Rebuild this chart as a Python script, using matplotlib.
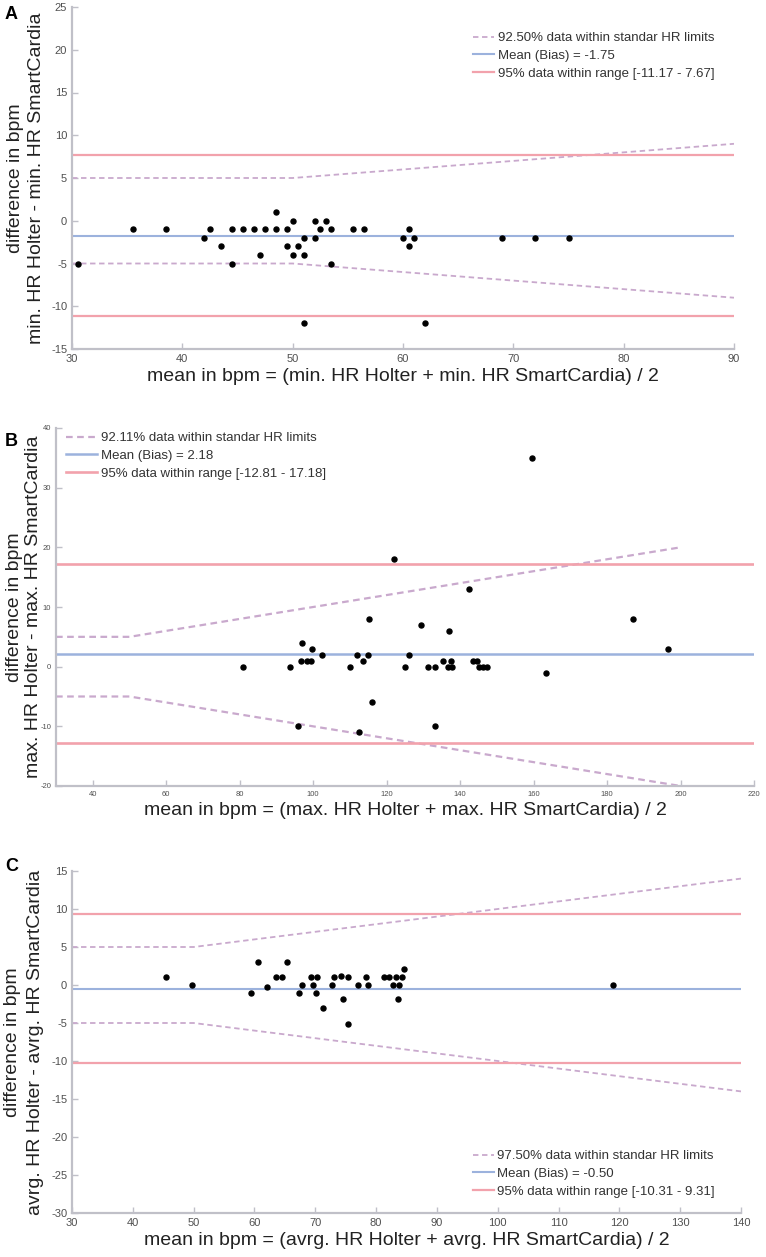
import matplotlib
matplotlib.use('Agg')
import matplotlib.pyplot as plt

plt.rcParams['axes.unicode_minus'] = False

# ---- panel A : minimum HR ----
a_x = [30.5, 35.5, 38.5, 42, 42.5, 43.5, 44.5, 44.5, 45.5, 46.5, 47, 47.5, 48.5, 48.5,
       49.5, 49.5, 50, 50, 50.5, 51, 51, 51, 52, 52, 52.5, 53, 53.5, 53.5, 55.5, 56.5,
       60, 60.5, 60.5, 61, 62, 69, 72, 75]
a_y = [-5, -1, -1, -2, -1, -3, -1, -5, -1, -1, -4, -1, 1, -1,
       -1, -3, 0, -4, -3, -2, -4, -12, 0, -2, -1, 0, -1, -5, -1, -1,
       -2, -1, -3, -2, -12, -2, -2, -2]
a_bias = -1.75
a_loa = [-11.17, 7.67]
a_lim_x = [30, 50, 90]
a_lim_y = [5, 5, 9]

# ---- panel B : maximum HR ----
b_x = [80.9, 93.8, 96.6, 97.0, 96.0, 98.3, 99.5, 99.6, 102.3, 110.1, 112.0, 112.4, 113.6,
       115.0, 115.3, 116.0, 121.9, 125.0, 126.1, 129.3, 131.2, 133.1, 133.1, 135.4, 136.6,
       137.0, 137.5, 137.8, 142.4, 143.4, 144.6, 145.2, 146.1, 147.2, 159.7, 163.5, 187.0, 196.7]
b_y = [0, 0, 1, 4, -10, 1, 1, 3, 2, 0, 2, -11, 1,
       2, 8, -6, 18, 0, 2, 7, 0, 0, -10, 1, 0,
       6, 1, 0, 13, 1, 1, 0, 0, 0, 35, -1, 8, 3]
b_bias = 2.18
b_loa = [-12.81, 17.18]
b_lim_x = [30, 50, 200]
b_lim_y = [5, 5, 20]

# ---- panel C : average HR ----
c_x = [45.4, 49.8, 59.4, 60.6, 62.0, 63.6, 64.6, 65.4, 67.4, 67.8, 69.3, 69.6, 70.3, 70.2,
       71.3, 72.8, 73.1, 74.2, 74.6, 75.3, 75.3, 77.1, 78.4, 78.7, 81.3, 82.2, 82.7, 83.3,
       83.6, 83.8, 84.3, 84.6, 119.0]
c_y = [1, 0, -1, 3, -0.2, 1, 1, 3, -1, 0, 1, 0, 1, -1,
       -3, 0, 1, 1.2, -1.9, 1, -5.1, 0, 1, 0, 1, 1, 0, 1,
       -1.9, 0, 1, 2.1, 0]
c_bias = -0.50
c_loa = [-10.31, 9.31]
c_lim_x = [30, 50, 140]
c_lim_y = [5, 5, 14]

DASH = '#c9a9cd'
BLUE = '#9cb2dd'
RED = '#f2a2ac'
SPINE = '#c0c0c8'
TICKC = '#505050'

TICKFONT = ['Liberation Sans Narrow', 'Liberation Sans', 'DejaVu Sans']
LABFONT = ['Liberation Sans', 'DejaVu Sans']

W, H = 766, 1257
fig = plt.figure(figsize=(W / 100, H / 100), dpi=100)


def panel(px, xs, ys, bias, loa, lim_x, lim_y, xlim, ylim, xticks, yticks,
          xlabel, ylabel, ylab_x, leg, leg_anchor, tick_fs, handlelen, lw):
    # px = left, top, right, bottom in picture pixels
    l, t, r, b = px
    ax = fig.add_axes([l / W, 1 - b / H, (r - l) / W, (b - t) / H])
    ax.plot(lim_x, lim_y, ls=(0, (3, 2)), color=DASH, lw=lw, label=leg[0])
    ax.plot(lim_x, [-v for v in lim_y], ls=(0, (3, 2)), color=DASH, lw=lw)
    ax.axhline(bias, color=BLUE, lw=lw + 0.2, label=leg[1])
    ax.axhline(loa[0], color=RED, lw=lw + 0.3, label=leg[2])
    ax.axhline(loa[1], color=RED, lw=lw + 0.3)
    ax.plot(xs, ys, 'o', color='black', ms=3.6, zorder=5, clip_on=False)
    ax.set_xlim(xlim)
    ax.set_ylim(ylim)
    ax.set_xticks(xticks)
    ax.set_yticks(yticks)
    for s in ['top', 'right']:
        ax.spines[s].set_visible(False)
    for s in ['left', 'bottom']:
        ax.spines[s].set_color(SPINE)
        ax.spines[s].set_linewidth(1.6)
    ax.tick_params(direction='in', length=4, width=1, color=SPINE,
                   labelcolor=TICKC, labelsize=tick_fs)
    for tl in ax.get_xticklabels() + ax.get_yticklabels():
        tl.set_family(TICKFONT)
    ax.set_xlabel(xlabel, fontsize=14, family=LABFONT, color='#222222', labelpad=3)
    # two-line y label, one text per line
    yc = 1 - (t + b) / 2 / H
    for line, xx in zip(ylabel, ylab_x):
        fig.text(xx / W, yc, line, rotation=90, ha='center', va='center',
                 fontsize=14, family=LABFONT, color='#222222')
    lg = ax.legend(loc='upper left', bbox_to_anchor=leg_anchor, frameon=False,
                   prop={'family': TICKFONT, 'size': 9.5}, handlelength=handlelen,
                   handletextpad=0.25, labelspacing=0.42, borderaxespad=0,
                   borderpad=0)
    for tx in lg.get_texts():
        tx.set_color('#333333')
    return ax


panel((72, 7, 734, 349), a_x, a_y, a_bias, a_loa, a_lim_x, a_lim_y,
      (30, 90), (-15, 25), range(30, 91, 10), range(-15, 26, 5),
      'mean in bpm = (min. HR Holter + min. HR SmartCardia) / 2',
      ['difference in bpm', 'min. HR Holter - min. HR SmartCardia'], [16, 37],
      ['92.50% data within standar HR limits', 'Mean (Bias) = -1.75',
       '95% data within range [-11.17 - 7.67]'],
      (0.606, 0.927), 8, 1.6, 1.3)

panel((56, 428, 754, 786), b_x, b_y, b_bias, b_loa, b_lim_x, b_lim_y,
      (30, 220), (-20, 40), range(40, 221, 20), range(-20, 41, 10),
      'mean in bpm = (max. HR Holter + max. HR SmartCardia) / 2',
      ['difference in bpm', 'max. HR Holter - max. HR SmartCardia'], [15, 34],
      ['92.11% data within standar HR limits', 'Mean (Bias) = 2.18',
       '95% data within range [-12.81 - 17.18]'],
      (0.014, 0.989), 5.5, 2.4, 1.6)

panel((72, 871, 741, 1213), c_x, c_y, c_bias, c_loa, c_lim_x, c_lim_y,
      (30, 140), (-30, 15), range(30, 141, 10), range(-30, 16, 5),
      'mean in bpm = (avrg. HR Holter + avrg. HR SmartCardia) / 2',
      ['difference in bpm', 'avrg. HR Holter - avrg. HR SmartCardia'], [13, 36],
      ['97.50% data within standar HR limits', 'Mean (Bias) = -0.50',
       '95% data within range [-10.31 - 9.31]'],
      (0.599, 0.184), 8, 1.6, 1.3)

for lab, yy in [('A', 6), ('B', 433), ('C', 858)]:
    fig.text(5 / W, 1 - yy / H, lab, fontsize=13, fontweight='bold', family=LABFONT,
             va='top', ha='left')

fig.savefig('out.png', dpi=100)
